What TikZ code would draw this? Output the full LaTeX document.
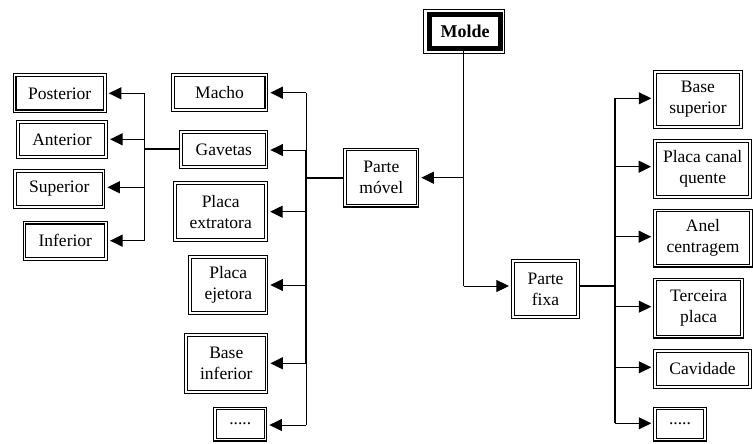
\documentclass[tikz,border=0pt]{standalone}
\usepackage{fontspec}
\setmainfont{Liberation Serif}
\usetikzlibrary{arrows.meta}
\begin{document}
\begin{tikzpicture}[x=1pt,y=-1pt,
  box/.style={draw, double, double distance=1.7pt, line width=1.05pt, inner sep=0pt, outer sep=0pt,
    align=center, font=\fontsize{17.5}{21}\selectfont},
  arr/.style={line width=1pt, -{Triangle[length=12.5pt,width=12pt]}, shorten >=4pt},
  conn/.style={line width=1pt},
  bus/.style={line width=1.8pt},
  rbus/.style={line width=1.5pt}]
\useasboundingbox (0,0) rectangle (753,444);

% Molde
\node[draw, line width=5pt, outer sep=0pt, inner sep=0pt, minimum width=71.6pt, minimum height=34.2pt,
  font=\fontsize{18}{21}\selectfont\bfseries] (molde) at (465,31.8) {Molde};
\draw[line width=1.1pt] ([xshift=-5.5pt,yshift=5.3pt]molde.north west) rectangle ([xshift=4pt,yshift=-5pt]molde.south east);

% Left small group
\node[box, minimum width=90.2pt, minimum height=36.2pt] (posterior) at (59.7,93.3) {Posterior};
\node[box, minimum width=88.2pt, minimum height=34.9pt] (anterior) at (62,139.5) {Anterior};
\node[box, minimum width=88.2pt, minimum height=35.5pt] (superior) at (59.3,189) {Superior};
\node[box, minimum width=81.5pt, minimum height=36.2pt] (inferior) at (65.3,240.7) {Inferior};

% Left middle group
\node[box, minimum width=93.7pt, minimum height=35.2pt] (macho) at (219.5,92.5) {Macho};
\node[box, minimum width=85.2pt, minimum height=34.5pt] (gavetas) at (223.8,149.5) {Gavetas};
\node[box, minimum width=90.9pt, minimum height=56.9pt] (pextr) at (220.7,211.7) {Placa\\extratora};
\node[box, minimum width=76.2pt, minimum height=56.5pt] (pejet) at (228.3,285) {Placa\\ejetora};
\node[box, minimum width=80.2pt, minimum height=57.2pt] (binf) at (226.3,363.5) {Base\\inferior};
\node[box, minimum width=50.2pt, minimum height=31.2pt] (dotsL) at (240.3,424) {.....};

% Parte movel / fixa
\node[box, minimum width=72.2pt, minimum height=56.2pt] (pmovel) at (381.3,177.5) {Parte\\móvel};
\node[box, minimum width=65.2pt, minimum height=56.2pt] (pfixa) at (545.5,289) {Parte\\fixa};

% Right group
\node[box, minimum width=85.5pt, minimum height=55.5pt] (bsup) at (698,99.5) {Base\\superior};
\node[box, minimum width=95.2pt, minimum height=56.2pt] (pcq) at (702.7,169) {Placa canal\\quente};
\node[box, minimum width=95.6pt, minimum height=55.2pt] (anel) at (703,238) {Anel\\centragem};
\node[box, minimum width=86.9pt, minimum height=57.2pt] (terc) at (698.7,308) {Terceira\\placa};
\node[box, minimum width=94.5pt, minimum height=35.5pt] (cav) at (702.5,369) {Cavidade};
\node[box, minimum width=49.5pt, minimum height=31.2pt] (dotsR) at (680,424) {.....};

% Molde connectors
\coordinate (mj) at (463.5,177.7);
\coordinate (mf) at (463.5,286);
\draw[conn, shorten <=2.5pt] ([xshift=-1.5pt]molde.south) -- (mf);
\draw[arr] (mj) -- (pmovel.east |- mj);
\draw[arr] (mf) -- (pfixa.west |- mf);

% Left bus
\coordinate (l1) at (306,92.7);
\coordinate (l2) at (306,150);
\coordinate (l3) at (306,211.7);
\coordinate (l4) at (306,285);
\coordinate (l5) at (306,363.3);
\coordinate (l6) at (306,425);
\coordinate (lj) at (306,177.7);
\draw[conn] (l1) -- (l2);
\draw[bus] (l2) -- (l5);
\draw[conn] (l5) -- (l6);
\draw[bus, shorten <=1.8pt] (pmovel.west |- lj) -- (lj);
\draw[arr] (l1) -- (macho.east |- l1);
\draw[arr] (l2) -- (gavetas.east |- l2);
\draw[arr] (l3) -- (pextr.east |- l3);
\draw[arr] (l4) -- (pejet.east |- l4);
\draw[arr] (l5) -- (binf.east |- l5);
\draw[arr] (l6) -- (dotsL.east |- l6);

% Small bus
\coordinate (s1) at (144,93.3);
\coordinate (s2) at (144,139.3);
\coordinate (s3) at (144,187.3);
\coordinate (s4) at (144,240.7);
\coordinate (sj) at (144,149.3);
\draw[conn] (s1) -- (s4);
\draw[bus, shorten <=1.8pt] (gavetas.west |- sj) -- (sj);
\draw[arr] (s1) -- (posterior.east |- s1);
\draw[arr] (s2) -- (anterior.east |- s2);
\draw[arr] (s3) -- (superior.east |- s3);
\draw[arr] (s4) -- (inferior.east |- s4);

% Right bus
\coordinate (r1) at (615,98.3);
\coordinate (r2) at (615,166.7);
\coordinate (r3) at (615,236.7);
\coordinate (r4) at (615,306.7);
\coordinate (r5) at (615,367.3);
\coordinate (r6) at (615,423.3);
\coordinate (rj) at (615,286);
\draw[rbus] (r1) -- (r6);
\draw[line width=1.3pt, shorten <=1.8pt] (pfixa.east |- rj) -- (rj);
\draw[arr] (r1) -- (bsup.west |- r1);
\draw[arr] (r2) -- (pcq.west |- r2);
\draw[arr] (r3) -- (anel.west |- r3);
\draw[arr] (r4) -- (terc.west |- r4);
\draw[arr] (r5) -- (cav.west |- r5);
\draw[arr] (r6) -- (dotsR.west |- r6);
\end{tikzpicture}
\end{document}
